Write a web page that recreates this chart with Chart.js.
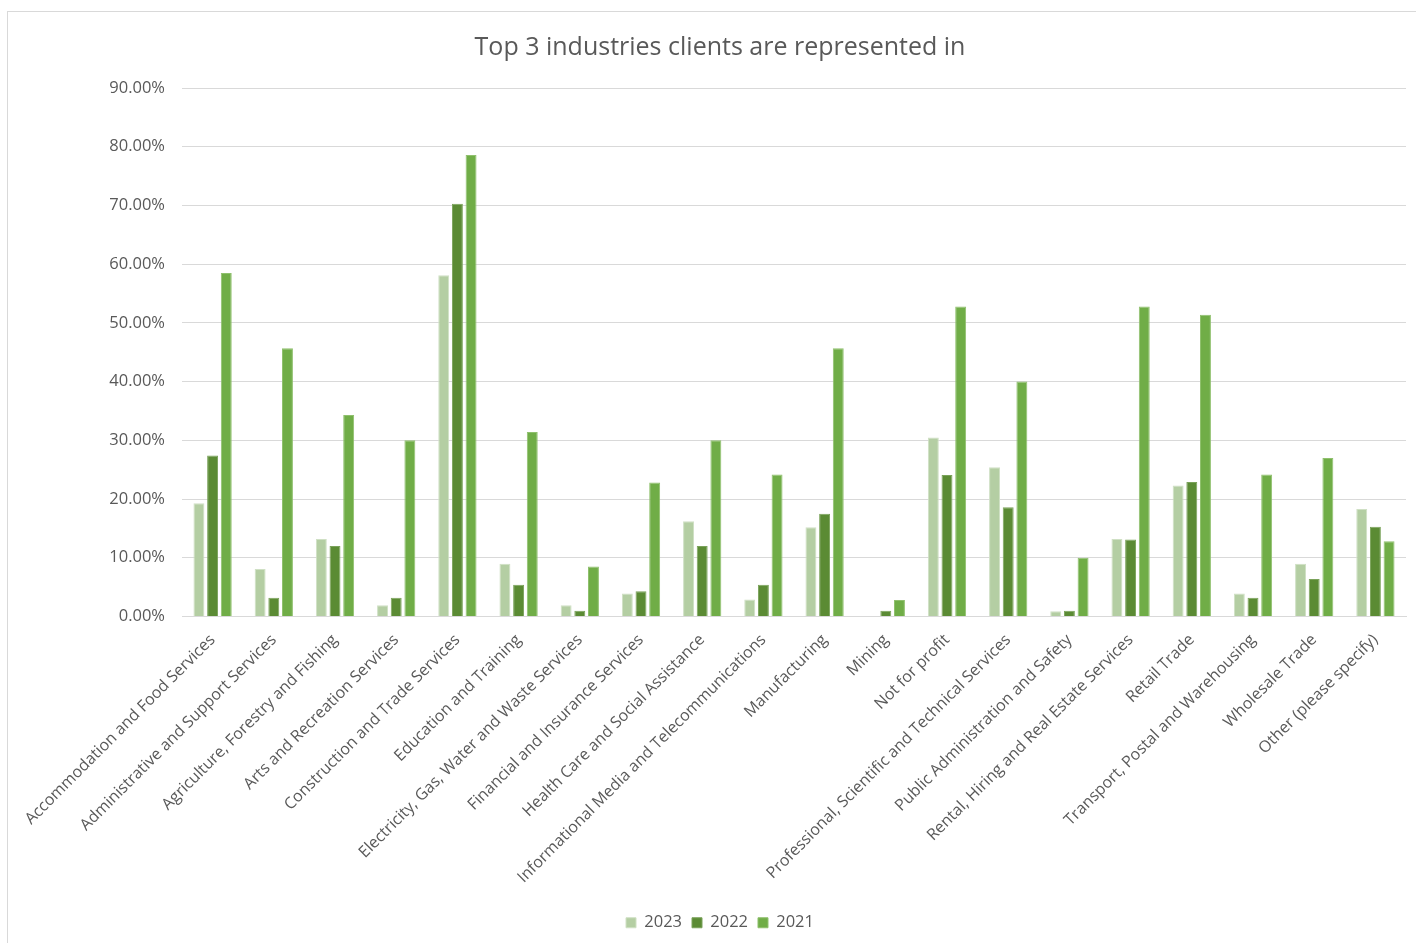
<!DOCTYPE html>
<html>
<head>
<meta charset="utf-8">
<script src="https://cdn.jsdelivr.net/npm/chart.js@4/dist/chart.umd.min.js"></script>
<style>
  html, body { margin: 0; padding: 0; background: #ffffff; }
  #wrap { position: relative; width: 1416px; height: 943px; overflow: hidden; }
  #frame { position: absolute; left: 7px; top: 11px; width: 1420px; height: 940px;
           border-left: 1px solid #d9d9d9; border-top: 1px solid #d9d9d9; pointer-events: none; }
  canvas { position: absolute; left: 0; top: 0; }
</style>
</head>
<body>
<div id="wrap">
  <canvas id="chart" width="1416" height="943"></canvas>
  <div id="frame"></div>
</div>
<script>
// Industry categories
const categories = [
  "Accommodation and Food Services",
  "Administrative and Support Services",
  "Agriculture, Forestry and Fishing",
  "Arts and Recreation Services",
  "Construction and Trade Services",
  "Education and Training",
  "Electricity, Gas, Water and Waste Services",
  "Financial and Insurance Services",
  "Health Care and Social Assistance",
  "Informational Media and Telecommunications",
  "Manufacturing",
  "Mining",
  "Not for profit",
  "Professional, Scientific and Technical Services",
  "Public Administration and Safety",
  "Rental, Hiring and Real Estate Services",
  "Retail Trade",
  "Transport, Postal and Warehousing",
  "Wholesale Trade",
  "Other (please specify)"
];

// Share of respondents per year (percent)
const values2023 = [19.3, 8.1, 13.2, 1.9, 58.1, 9.0, 1.9, 3.9, 16.2, 2.9, 15.2, 0.0, 30.5, 25.4, 0.9, 13.2, 22.3, 3.9, 9.0, 18.3];
const values2022 = [27.4, 3.2, 12.0, 3.2, 70.3, 5.4, 1.0, 4.3, 12.0, 5.4, 17.5, 1.0, 24.1, 18.6, 1.0, 13.1, 22.9, 3.2, 6.4, 15.3];
const values2021 = [58.5, 45.7, 34.3, 30.0, 78.6, 31.4, 8.5, 22.8, 30.0, 24.2, 45.7, 2.8, 52.8, 40.0, 10.0, 52.8, 51.4, 24.2, 27.0, 12.8];

const seriesNames = ["2023", "2022", "2021"];
const yTicks = { min: 0, max: 90, step: 10 };

const FONT = "'Open Sans', 'Noto Sans', sans-serif";
const TEXT = "#595959";

new Chart(document.getElementById("chart"), {
  type: "bar",
  data: {
    labels: categories,
    datasets: [
      { label: seriesNames[0], data: values2023, backgroundColor: "#b4cea3", borderColor: "#cfe0c4", borderWidth: 1 },
      { label: seriesNames[1], data: values2022, backgroundColor: "#5b8b34", borderColor: "#7aa25a", borderWidth: 1 },
      { label: seriesNames[2], data: values2021, backgroundColor: "#70ad47", borderColor: "#8fc06d", borderWidth: 1 }
    ]
  },
  options: {
    responsive: false,
    animation: false,
    layout: { padding: { left: 34, right: 10, top: 0, bottom: 2 } },
    datasets: { bar: { categoryPercentage: 0.67, barPercentage: 0.8 } },
    plugins: {
      title: {
        display: true,
        text: "Top 3 industries clients are represented in",
        color: TEXT,
        font: { family: FONT, size: 25, weight: "normal" },
        padding: { top: 33, bottom: 25 }
      },
      legend: {
        position: "bottom",
        labels: {
          color: TEXT,
          font: { family: FONT, size: 16.5 },
          boxWidth: 10,
          boxHeight: 10,
          padding: 10
        }
      },
      tooltip: { enabled: false }
    },
    scales: {
      x: {
        afterFit: (scale) => { scale.height = 288; },
        grid: { display: false, drawTicks: false },
        border: { display: true, color: "#d9d9d9", width: 1 },
        ticks: {
          color: TEXT,
          font: { family: FONT, size: 16 },
          minRotation: 45,
          maxRotation: 45,
          autoSkip: false,
          padding: 14
        }
      },
      y: {
        min: yTicks.min,
        max: yTicks.max,
        afterFit: (scale) => { scale.width = 148; },
        grid: { color: "#d9d9d9", drawTicks: false },
        border: { display: false },
        ticks: {
          stepSize: yTicks.step,
          color: TEXT,
          font: { family: FONT, size: 16.5 },
          padding: 17,
          callback: (v) => v.toFixed(2) + "%"
        }
      }
    }
  }
});
</script>
</body>
</html>
